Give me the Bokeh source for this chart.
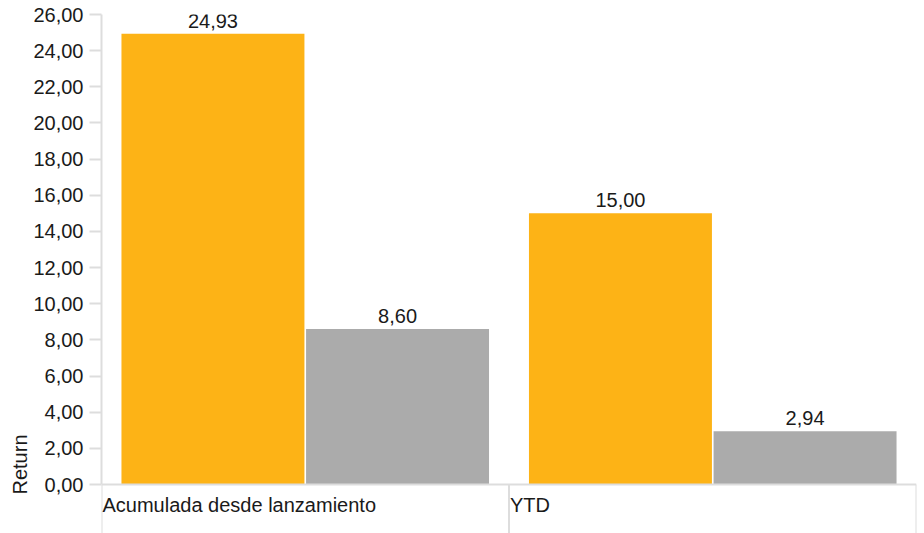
from bokeh.plotting import figure
from bokeh.models import (Range1d, FixedTicker, LabelSet, Span,
                          CustomJSTickFormatter, ColumnDataSource, Title)
from bokeh.transform import dodge
from bokeh.core.properties import value
from bokeh.embed import file_html
from bokeh.resources import INLINE

categories = ["Acumulada desde lanzamiento", "YTD"]
fund = [24.93, 15.00]
benchmark = [8.60, 2.94]
y_ticks = [0, 2, 4, 6, 8, 10, 12, 14, 16, 18, 20, 22, 24, 26]
y_title = "Return"

ORANGE = "#FDB316"
GRAY = "#ABABAB"
AXIS = "#DDDDDD"
TEXT = "#1a1a1a"
FONT = "Liberation Sans"
FS = "20px"

def fmt(v):
    return f"{v:.2f}".replace(".", ",")

n = len(categories)
y_max = y_ticks[-1]
# the frame extends below zero to hold the category band labels
below_zero = -2.7106

src = ColumnDataSource(dict(
    cat=categories,
    xpos=[i + 0.5 for i in range(n)],   # centre of each category band
    fund=fund,
    bench=benchmark,
    fund_lbl=[fmt(v) for v in fund],
    bench_lbl=[fmt(v) for v in benchmark],
))
edges = list(range(n + 1))               # band boundaries
sep_src = ColumnDataSource(dict(x=edges, y0=[0] * len(edges),
                                y1=[below_zero] * len(edges)))

p = figure(width=924, height=533,
           x_range=Range1d(0, n),
           y_range=Range1d(below_zero, y_max),
           x_axis_location=None,
           output_backend="svg", toolbar_location=None,
           min_border_left=101, min_border_right=8,
           min_border_top=14, min_border_bottom=0)
p.outline_line_color = None
p.xgrid.visible = False
p.ygrid.visible = False

off = 0.2265
bw = 0.449
p.vbar(x=dodge("xpos", -off), top="fund", width=bw,
       source=src, color=ORANGE, line_color=None)
p.vbar(x=dodge("xpos", off), top="bench", width=bw,
       source=src, color=GRAY, line_color=None)

for col, lbl, o in (("fund", "fund_lbl", -off), ("bench", "bench_lbl", off)):
    p.add_layout(LabelSet(x=dodge("xpos", o), y=col, text=lbl, source=src,
                          text_align="center", text_baseline="alphabetic",
                          y_offset=6, text_font=value(FONT), text_font_size=value(FS),
                          text_color=TEXT))

# x baseline and band separators
p.add_layout(Span(location=0, dimension="width", line_color=AXIS, line_width=2))
p.segment(x0="x", y0="y0", x1="x", y1="y1", source=sep_src,
          line_color=AXIS, line_width=2)

# category labels, left-aligned at the start of each band
p.add_layout(LabelSet(x=dodge("xpos", -0.5), y=0, text="cat", source=src,
                      text_align="left", text_baseline="alphabetic",
                      x_offset=1, y_offset=-27, text_font=value(FONT),
                      text_font_size=value(FS), text_color=TEXT))

# y axis
ya = p.yaxis[0]
ya.ticker = FixedTicker(ticks=y_ticks)
ya.bounds = (0, y_max)
ya.formatter = CustomJSTickFormatter(code="return tick.toFixed(2).replace('.', ',');")
ya.minor_tick_line_color = None
ya.major_tick_out = 12
ya.major_tick_in = 0
ya.major_label_standoff = 6
ya.axis_line_color = AXIS
ya.axis_line_width = 2
ya.major_tick_line_color = AXIS
ya.major_tick_line_width = 2
ya.major_label_text_font = FONT
ya.major_label_text_font_size = FS
ya.major_label_text_color = TEXT

t = Title(text=y_title, align="left", text_font=FONT, text_font_size=FS,
          text_font_style="normal", text_color=TEXT, standoff=0, offset=39)
p.add_layout(t, "left")

open("out.html", "w").write(file_html(p, INLINE))
